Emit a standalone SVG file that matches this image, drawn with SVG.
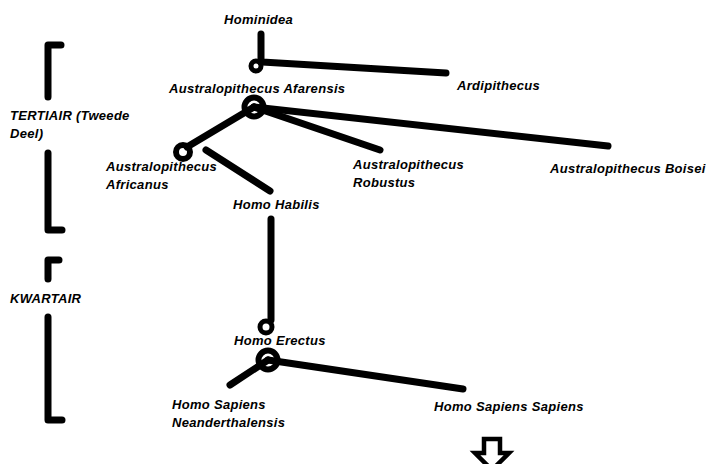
<svg xmlns="http://www.w3.org/2000/svg" width="706" height="464" viewBox="0 0 706 464">
<style>
.t{font-family:"Liberation Sans",Arial,sans-serif;font-size:13px;letter-spacing:0.3px;font-weight:bold;font-style:italic;fill:#000}
.l{stroke:#000;stroke-width:7;stroke-linecap:round;stroke-linejoin:round;fill:none}
.c{stroke:#000;fill:none}
</style>
<rect width="706" height="464" fill="#fff"/>
<g id="brackets">
<path class="l" d="M61,45 H48 V97"/>
<path class="l" d="M48,153 V230 H62"/>
<path class="l" d="M59,260 H48 V279"/>
<path class="l" d="M48,317 V420 H62"/>
</g>
<g id="connectors">
<path class="l" d="M261,34 V62 M262,62 L446,73"/>
<path class="l" d="M254,107 L608,146"/>
<path class="l" d="M254,107 L380,150"/>
<path class="l" d="M254,107 L187,147"/>
<path class="l" d="M206,150 L270,191"/>
<path class="l" d="M271,219 V320"/>
<path class="l" d="M268,360 L463,389"/>
<path class="l" d="M268,360 L230,385"/>
</g>
<g id="hominidea"><text class="t" x="224" y="24">Hominidea</text></g>
<g id="ardipithecus"><circle class="c" cx="256" cy="66" r="5" stroke-width="5"/><text class="t" x="457" y="90">Ardipithecus</text></g>
<g id="afarensis"><text class="t" x="169" y="93">Australopithecus Afarensis</text><circle class="c" cx="254" cy="107" r="9.5" stroke-width="6"/></g>
<g id="africanus"><circle class="c" cx="183" cy="152" r="7" stroke-width="6"/><text class="t" x="106" y="171">Australopithecus</text><text class="t" x="106" y="189">Africanus</text></g>
<g id="robustus"><text class="t" x="353" y="169">Australopithecus</text><text class="t" x="353" y="187">Robustus</text></g>
<g id="boisei"><text class="t" x="550" y="173">Australopithecus Boisei</text></g>
<g id="habilis"><text class="t" x="233" y="209">Homo Habilis</text></g>
<g id="erectus"><circle class="c" cx="266" cy="327" r="6" stroke-width="5"/><text class="t" x="234" y="345">Homo Erectus</text><circle class="c" cx="268" cy="360" r="9.5" stroke-width="6"/></g>
<g id="neanderthalensis"><text class="t" x="172" y="409">Homo Sapiens</text><text class="t" x="172" y="427">Neanderthalensis</text></g>
<g id="sapiens"><text class="t" x="434" y="411">Homo Sapiens Sapiens</text></g>
<g id="tertiair"><text class="t" x="10" y="120">TERTIAIR (Tweede</text><text class="t" x="10" y="138">Deel)</text></g>
<g id="kwartair"><text class="t" x="10" y="303">KWARTAIR</text></g>
<g id="arrow"><path d="M484,439 H500 V453 H509 L492,470 L475,453 H484 Z" fill="#fff" stroke="#000" stroke-width="4.5" stroke-linejoin="miter"/></g>
</svg>
